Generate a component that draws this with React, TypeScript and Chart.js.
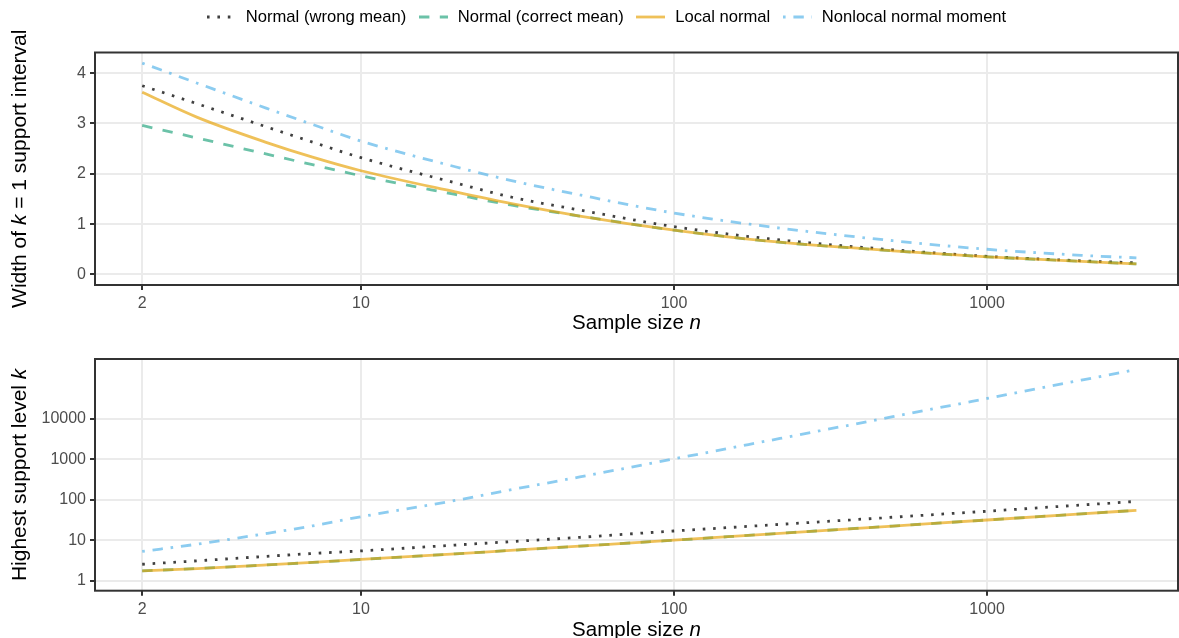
import React, { useEffect, useRef } from "react";
import { Chart, registerables } from "chart.js";

Chart.register(...registerables);

const FONT = '"Liberation Sans", Arial, Helvetica, sans-serif';

// Sample sizes (x values)
const sampleSizes = [2, 3, 5, 7, 10, 20, 30, 50, 100, 200, 500, 1000, 2000, 3000];

// Top panel: width of k = 1 support interval
const widthWrongMean = [3.75, 3.39, 2.93, 2.63, 2.32, 1.82, 1.54, 1.28, 0.95, 0.71, 0.49, 0.36, 0.27, 0.23];
const widthCorrectMean = [2.96, 2.71, 2.39, 2.18, 1.96, 1.59, 1.38, 1.16, 0.88, 0.66, 0.47, 0.35, 0.26, 0.21];
const widthLocalNormal = [3.62, 3.12, 2.62, 2.33, 2.06, 1.64, 1.41, 1.16, 0.88, 0.66, 0.47, 0.35, 0.26, 0.21];
const widthNonlocalMoment = [4.2, 3.8, 3.3, 2.98, 2.65, 2.14, 1.87, 1.58, 1.22, 0.95, 0.67, 0.5, 0.38, 0.33];

// Bottom panel: highest support level k
const kWrongMean = [2.55, 3.1, 4.0, 4.7, 5.45, 7.6, 9.2, 11.8, 16.9, 23.6, 37, 52, 74, 91];
const kCorrectMean = [1.75, 2.0, 2.45, 2.83, 3.35, 4.6, 5.6, 7.15, 10.0, 14.2, 22.4, 31.6, 44.7, 54.8];
const kLocalNormal = [1.75, 2.0, 2.45, 2.83, 3.35, 4.6, 5.6, 7.15, 10.0, 14.2, 22.4, 31.6, 44.7, 54.8];
const kNonlocalMoment = [5.3, 8.0, 14.7, 22.6, 38, 96, 175, 365, 1020, 2860, 11200, 31700, 89600, 164000];

// Tick labels
const xTicks = [2, 10, 100, 1000];
const yTicksTop = [0, 1, 2, 3, 4];
const yTicksBottom = [1, 10, 100, 1000, 10000];

const seriesNames = ["Normal (wrong mean)", "Normal (correct mean)", "Local normal", "Nonlocal normal moment"];

const LW = 2.8;
const U = 2.6;
const styles = [
  { color: "rgba(0,0,0,0.75)", dash: [U, 3 * U] },
  { color: "rgba(0,150,105,0.58)", dash: [4 * U, 4 * U] },
  { color: "rgba(230,159,0,0.65)", dash: [] as number[] },
  { color: "rgba(86,180,233,0.68)", dash: [U, 3 * U, 4 * U, 3 * U] },
];

type Seg = { t: string; i?: boolean };

function drawSegs(ctx: CanvasRenderingContext2D, segs: Seg[], size: number, cx: number, cy: number, rotate: boolean) {
  ctx.save();
  ctx.translate(cx, cy);
  if (rotate) ctx.rotate(-Math.PI / 2);
  const fonts = segs.map((s) => `${s.i ? "italic " : ""}${size}px ${FONT}`);
  let total = 0;
  const ws = segs.map((s, k) => {
    ctx.font = fonts[k];
    const w = ctx.measureText(s.t).width;
    total += w;
    return w;
  });
  let x = -total / 2;
  ctx.fillStyle = "#000";
  ctx.textBaseline = "middle";
  ctx.textAlign = "left";
  segs.forEach((s, k) => {
    ctx.font = fonts[k];
    ctx.fillText(s.t, x, 0);
    x += ws[k];
  });
  ctx.restore();
}

function makeFramePlugin(xTitle: Seg[], yTitle: Seg[], xTitleY: number, yTitleX: number) {
  return {
    id: "frameAndTitles",
    afterDraw(chart: any) {
      const { ctx, chartArea } = chart;
      ctx.save();
      ctx.strokeStyle = "#333333";
      ctx.lineWidth = 2;
      ctx.strokeRect(chartArea.left, chartArea.top, chartArea.right - chartArea.left, chartArea.bottom - chartArea.top);
      ctx.restore();
      drawSegs(ctx, xTitle, 20.5, (chartArea.left + chartArea.right) / 2, xTitleY, false);
      drawSegs(ctx, yTitle, 21, yTitleX, (chartArea.top + chartArea.bottom) / 2, true);
    },
  };
}

type PanelCfg = {
  padTop: number;
  xAxisH: number;
  yType: "linear" | "logarithmic";
  yMin: number;
  yMax: number;
  yTicks: number[];
  values: number[][];
  yTitle: Seg[];
  xTitleY: number;
};

function buildChart(canvas: HTMLCanvasElement, cfg: PanelCfg) {
  const datasets = cfg.values.map((vals, si) => ({
    label: seriesNames[si],
    data: sampleSizes.map((n, i) => ({ x: n, y: vals[i] })),
    borderColor: styles[si].color,
    borderWidth: LW,
    borderDash: styles[si].dash,
    borderCapStyle: "butt" as const,
    pointRadius: 0,
    fill: false,
    cubicInterpolationMode: "monotone" as const,
    order: 4 - si,
  }));
  const tickFont = { family: FONT, size: 16 };
  return new Chart(canvas, {
    type: "line",
    data: { datasets },
    options: {
      animation: false,
      responsive: false,
      devicePixelRatio: 1,
      layout: { padding: { top: cfg.padTop, left: 0, right: 1, bottom: 0 } },
      plugins: { legend: { display: false }, tooltip: { enabled: false }, title: { display: false } },
      scales: {
        x: {
          type: "logarithmic",
          min: 1.413,
          max: 4074,
          afterBuildTicks: (s: any) => {
            s.ticks = xTicks.map((v) => ({ value: v }));
          },
          afterFit: (s: any) => {
            s.height = cfg.xAxisH;
          },
          ticks: {
            callback: (v: any) => String(v),
            font: tickFont,
            color: "#4d4d4d",
            padding: 4,
            maxRotation: 0,
            autoSkip: false,
          },
          grid: { color: "#ebebeb", lineWidth: 2, tickColor: "#333333", tickLength: 5, tickWidth: 2, drawTicks: true },
          border: { display: false },
        },
        y: {
          type: cfg.yType,
          min: cfg.yMin,
          max: cfg.yMax,
          afterBuildTicks: (s: any) => {
            s.ticks = cfg.yTicks.map((v) => ({ value: v }));
          },
          afterFit: (s: any) => {
            s.width = 95;
          },
          ticks: {
            callback: (v: any) => String(v),
            font: tickFont,
            color: "#4d4d4d",
            padding: 4,
            autoSkip: false,
          },
          grid: { color: "#ebebeb", lineWidth: 2, tickColor: "#333333", tickLength: 5, tickWidth: 2, drawTicks: true },
          border: { display: false },
        },
      },
    } as any,
    plugins: [makeFramePlugin([{ t: "Sample size " }, { t: "n", i: true }], cfg.yTitle, cfg.xTitleY, 20)],
  });
}

function LegendItem({ label, color, dash }: { label: string; color: string; dash: number[] }) {
  return (
    <div style={{ display: "flex", alignItems: "center" }}>
      <svg width={29} height={10} style={{ display: "block" }}>
        <line x1={0} y1={5} x2={29} y2={5} stroke={color} strokeWidth={LW} strokeDasharray={dash.length ? dash.join(" ") : undefined} />
      </svg>
      <span style={{ marginLeft: 10, whiteSpace: "nowrap" }}>{label}</span>
    </div>
  );
}

export default function App() {
  const topRef = useRef<HTMLCanvasElement>(null);
  const botRef = useRef<HTMLCanvasElement>(null);

  useEffect(() => {
    const top = buildChart(topRef.current!, {
      padTop: 52.5,
      xAxisH: 55,
      yType: "linear",
      yMin: -0.21,
      yMax: 4.41,
      yTicks: yTicksTop,
      values: [widthWrongMean, widthCorrectMean, widthLocalNormal, widthNonlocalMoment],
      yTitle: [{ t: "Width of " }, { t: "k", i: true }, { t: " = 1 support interval" }],
      xTitleY: 323,
    });
    const bot = buildChart(botRef.current!, {
      padTop: 19,
      xAxisH: 47.3,
      yType: "logarithmic",
      yMin: 0.567,
      yMax: 298000,
      yTicks: yTicksBottom,
      values: [kWrongMean, kCorrectMean, kLocalNormal, kNonlocalMoment],
      yTitle: [{ t: "Highest support level " }, { t: "k", i: true }],
      xTitleY: 290,
    });
    return () => {
      top.destroy();
      bot.destroy();
    };
  }, []);

  return (
    <div style={{ position: "absolute", left: 0, top: 0, width: 1179, height: 638, background: "#fff", overflow: "hidden" }}>
      <canvas ref={topRef} width={1179} height={340} style={{ position: "absolute", left: 0, top: 0, width: 1179, height: 340 }} />
      <canvas ref={botRef} width={1179} height={298} style={{ position: "absolute", left: 0, top: 340, width: 1179, height: 298 }} />
      <div
        style={{
          position: "absolute",
          left: 0,
          top: 0,
          width: 1213,
          height: 34,
          display: "flex",
          justifyContent: "center",
          alignItems: "center",
          gap: 12.5,
          fontFamily: FONT,
          fontSize: 16.6,
          color: "#000",
        }}
      >
        {seriesNames.map((name, i) => (
          <LegendItem key={name} label={name} color={styles[i].color} dash={styles[i].dash} />
        ))}
      </div>
    </div>
  );
}
